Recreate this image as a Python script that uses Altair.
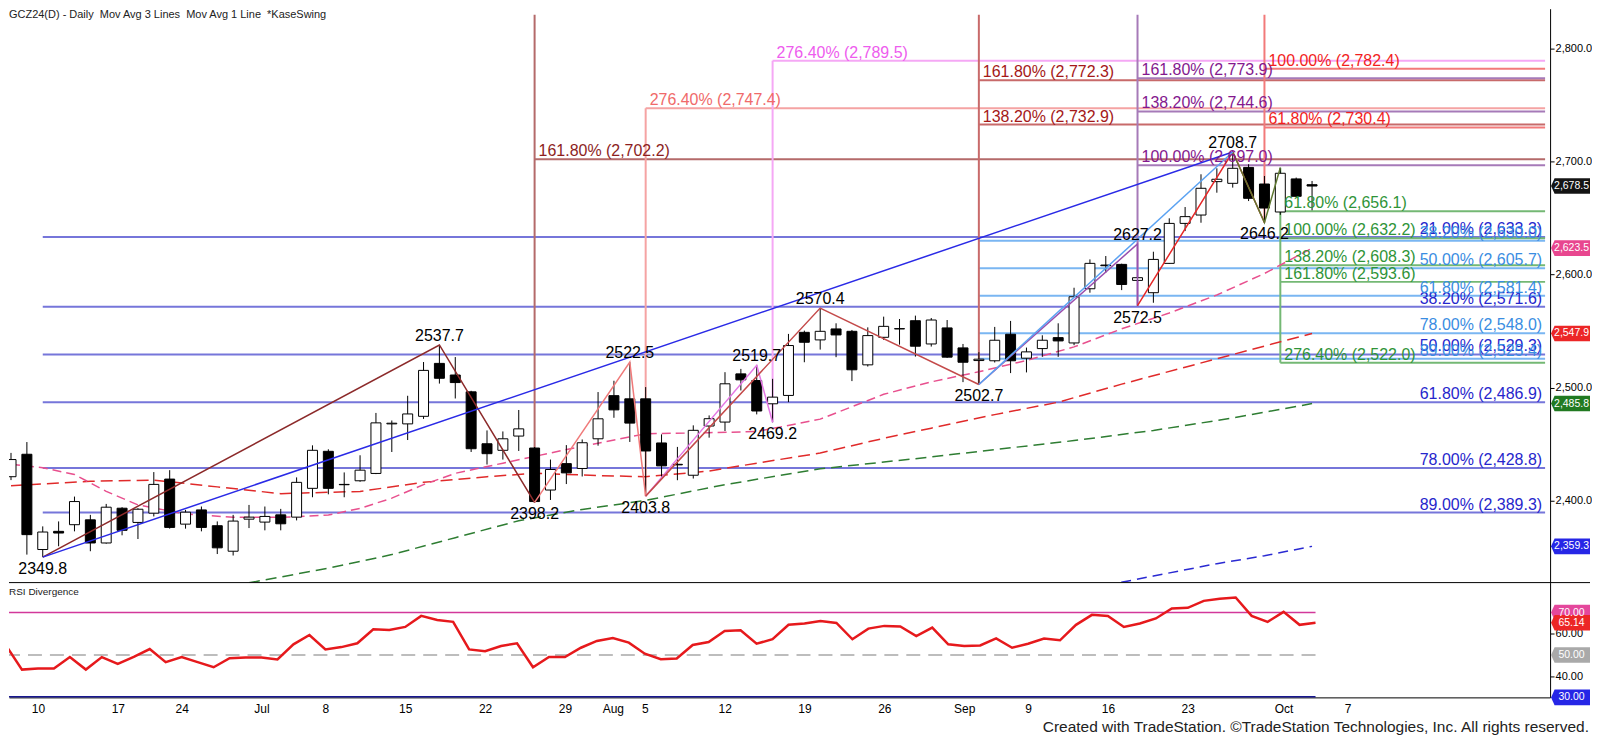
import json
import altair as alt
import pandas as pd

# ------------------------------------------------------------------ data
TITLE = "GCZ24(D) - Daily\u00a0 Mov Avg 3 Lines\u00a0 Mov Avg 1 Line\u00a0 *KaseSwing"
RSI_TITLE = "RSI Divergence"
FOOTER = "Created with TradeStation. \u00a9TradeStation Technologies, Inc. All rights reserved."

# trading-day index: 0 = Jun 10 2024 ... 80 = Oct 3 2024
DAY_IDX = list(range(-2, 81))
OPEN = [2421.0, 2440.9, 2356.5, 2372.6, 2378.5, 2382.8, 2362.3, 2393.1, 2380.5, 2388.7,
        2418.9, 2379.0, 2391.6, 2377.6, 2355.0, 2383.4, 2380.8, 2387.2, 2385.2, 2410.7,
        2443.5, 2414.2, 2417.4, 2423.9, 2467.8, 2467.8, 2474.5, 2521.4, 2511.1, 2496.2,
        2450.2, 2444.4, 2457.0, 2446.4, 2409.2, 2432.6, 2428.3, 2454.6, 2492.8, 2490.0,
        2490.0, 2450.9, 2432.0, 2422.3, 2465.9, 2469.4, 2512.1, 2506.2, 2485.6, 2493.0,
        2548.9, 2542.2, 2551.9, 2549.8, 2520.1, 2544.5, 2551.9, 2559.2, 2538.6, 2552.8,
        2535.1, 2523.9, 2523.7, 2547.2, 2526.0, 2534.5, 2544.2, 2539.5, 2587.5, 2608.5,
        2609.1, 2594.9, 2584.0, 2610.0, 2645.4, 2652.8, 2682.4, 2680.9, 2695.0, 2680.3,
        2655.5, 2684.8, 2679.7]
HIGH = [2442.1, 2451.7, 2377.0, 2381.4, 2403.4, 2387.2, 2396.9, 2394.0, 2393.1, 2425.1,
        2426.8, 2391.6, 2394.6, 2381.4, 2387.2, 2396.0, 2394.6, 2392.5, 2420.4, 2448.8,
        2445.3, 2424.8, 2440.0, 2477.5, 2470.8, 2492.7, 2522.6, 2537.7, 2527.0, 2497.1,
        2462.0, 2461.1, 2480.1, 2447.3, 2436.2, 2449.0, 2454.0, 2496.0, 2506.0, 2522.5,
        2500.4, 2458.5, 2447.4, 2466.5, 2475.3, 2513.6, 2516.5, 2519.7, 2507.7, 2547.5,
        2550.4, 2570.4, 2556.9, 2551.0, 2553.3, 2562.8, 2560.7, 2563.7, 2561.6, 2559.8,
        2538.6, 2531.3, 2553.7, 2559.0, 2535.4, 2546.3, 2556.9, 2588.4, 2613.5, 2616.5,
        2609.7, 2627.2, 2620.3, 2649.9, 2659.9, 2688.9, 2694.2, 2708.7, 2697.8, 2687.4,
        2694.7, 2686.0, 2683.0]
LOW = [2418.0, 2352.0, 2349.8, 2359.4, 2372.6, 2355.0, 2361.7, 2369.1, 2365.8, 2385.8,
       2375.0, 2375.0, 2372.6, 2352.5, 2351.2, 2375.5, 2373.5, 2373.5, 2382.3, 2402.8,
       2405.4, 2402.8, 2416.5, 2423.3, 2442.9, 2453.5, 2472.2, 2503.5, 2490.3, 2442.9,
       2431.8, 2436.2, 2443.8, 2398.2, 2400.4, 2414.5, 2421.2, 2448.5, 2473.2, 2451.8,
       2403.8, 2420.9, 2417.9, 2419.4, 2455.6, 2461.5, 2497.4, 2476.2, 2469.2, 2487.1,
       2522.4, 2533.6, 2526.9, 2505.7, 2518.6, 2542.2, 2538.0, 2527.4, 2536.3, 2526.3,
       2504.8, 2502.7, 2522.2, 2512.8, 2513.4, 2527.2, 2527.2, 2537.5, 2584.0, 2601.7,
       2586.3, 2572.5, 2575.1, 2609.7, 2638.6, 2646.0, 2672.6, 2677.1, 2665.2, 2646.2,
       2653.0, 2669.0, 2657.0]
CLOSE = [2436.2, 2369.7, 2372.0, 2371.1, 2399.0, 2362.3, 2394.0, 2373.5, 2392.2, 2414.2,
         2376.1, 2389.6, 2376.1, 2358.0, 2381.7, 2385.2, 2385.8, 2379.3, 2416.0, 2444.4,
         2410.7, 2413.9, 2426.8, 2468.7, 2468.4, 2476.6, 2515.2, 2508.2, 2504.4, 2445.8,
         2441.4, 2454.6, 2463.4, 2399.0, 2427.4, 2424.4, 2451.1, 2472.3, 2480.2, 2468.5,
         2443.8, 2430.6, 2431.5, 2462.1, 2472.4, 2503.3, 2506.8, 2479.2, 2491.5, 2537.2,
         2540.1, 2549.8, 2546.6, 2515.7, 2546.0, 2554.2, 2552.2, 2536.6, 2559.8, 2526.9,
         2522.4, 2525.1, 2541.9, 2523.7, 2531.6, 2541.9, 2541.3, 2580.4, 2610.0, 2607.9,
         2591.3, 2597.3, 2613.5, 2645.4, 2651.4, 2676.5, 2684.5, 2694.2, 2667.6, 2659.0,
         2689.8, 2669.4, 2678.5]
RSI = [54.5, 43.1, 43.6, 43.6, 49.0, 43.1, 49.0, 45.8, 49.1, 52.8,
       46.6, 49.0, 46.6, 44.2, 48.5, 48.8, 48.8, 47.9, 55.0, 59.4,
       52.6, 53.7, 55.5, 62.1, 61.8, 63.2, 68.4, 66.5, 65.6, 52.6,
       51.8, 54.2, 55.5, 44.2, 49.0, 49.0, 53.4, 56.6, 58.0, 55.8,
       50.6, 48.0, 48.3, 54.7, 56.1, 61.3, 61.6, 55.3, 57.4, 64.2,
       64.8, 66.0, 65.1, 57.4, 62.4, 63.7, 63.4, 58.9, 62.9, 55.0,
       54.2, 54.5, 57.8, 53.4, 55.3, 57.7, 56.9, 64.2, 68.9, 68.4,
       63.2, 64.8, 67.2, 71.9, 72.2, 75.5, 76.5, 77.1, 68.4, 65.6,
       70.3, 64.2, 65.14]

TICK_IDX = [0, 5, 9, 14, 18, 23, 28, 33, 36, 38, 43, 48, 53, 58, 62, 67, 72, 78, 82]
TICK_TXT = ["10", "17", "24", "Jul", "8", "15", "22", "29", "Aug", "5", "12", "19", "26",
            "Sep", "9", "16", "23", "Oct", "7"]
PRICE_TICKS = [2400, 2500, 2600, 2700, 2800]
RSI_TICKS = [40, 60]
RSI_LEVELS = [70, 50, 30]

# swing pivots (KaseSwing)
PIVOT_IDX = [0, 25, 31, 37, 38, 45, 46, 49, 59, 69, 69, 75, 77]
PIVOT_PRICE = [2349.8, 2537.7, 2398.2, 2522.5, 2403.8, 2519.7, 2469.2, 2570.4,
               2502.7, 2627.2, 2572.5, 2708.7, 2646.2]
PIVOT_SIDE = ["lo", "hi", "lo", "hi", "lo", "hi", "lo", "hi", "lo", "hi", "lo", "hi", "lo"]
SWING_LEGS = {
    "z1": [(0, 2349.8), (25, 2537.7), (31, 2398.2)],
    "z2": [(31, 2398.2), (37, 2522.5), (38, 2403.8)],
    "z3": [(38, 2403.8), (45, 2519.7), (46, 2469.2)],
    "z4": [(38, 2403.8), (49, 2570.4), (59, 2502.7)],
    "z5": [(59, 2502.7), (69, 2627.2), (69, 2572.5)],
    "z6": [(69, 2572.5), (75, 2708.7), (77, 2646.2)],
    "z7": [(75, 2708.7), (77, 2646.2), (78, 2694.7)],
    "t1": [(0, 2349.8), (75, 2708.7)],
    "t2": [(59, 2502.7), (75, 2708.7)],
}

# moving averages
MA_PINK_IDX = [-2, 0, 2, 4, 6, 9, 12, 15, 18, 20, 22, 24, 26, 29, 31, 34, 38, 42, 45, 49,
               53, 56, 59, 62, 65, 68, 71, 74, 77, 80]
MA_PINK_VAL = [2432, 2429, 2423, 2408, 2396, 2388, 2385, 2385, 2387, 2393, 2402, 2414, 2424,
               2433, 2439, 2448, 2459, 2460, 2461, 2472, 2494, 2505, 2514, 2524, 2536, 2552,
               2566, 2582, 2601, 2623.5]
MA_RED_IDX = [-2, 3, 7, 11, 15, 20, 24, 28, 31, 35, 38, 42, 45, 49, 53, 56, 60, 64, 68, 72, 76, 80]
MA_RED_VAL = [2413, 2417, 2418, 2412, 2406, 2408, 2416, 2421, 2424, 2422, 2421, 2426, 2433,
              2442, 2455, 2464, 2476, 2487, 2503, 2518, 2533, 2547.9]
MA_GREEN_IDX = [13, 18, 22, 26, 30, 34, 38, 43, 49, 55, 60, 65, 70, 75, 80]
MA_GREEN_VAL = [2327, 2340, 2352, 2367, 2382, 2392, 2400, 2414, 2428, 2437, 2445, 2453, 2462,
                2473, 2485.8]
MA_BLUE_IDX = [66, 70, 74, 77, 80]
MA_BLUE_VAL = [2322, 2333, 2344, 2351, 2359.3]

# Fibonacci sets: (start index, levels, percentages)
FIB_DB_START, FIB_DB_LEVELS, FIB_DB_PCTS = 0, [2633.3, 2571.6, 2529.3, 2486.9, 2428.8, 2389.3], \
    ["21.00%", "38.20%", "50.00%", "61.80%", "78.00%", "89.00%"]
FIB_LB_START, FIB_LB_LEVELS, FIB_LB_PCTS = 59, [2630.0, 2605.7, 2581.4, 2548.0, 2525.4], \
    ["38.20%", "50.00%", "61.80%", "78.00%", "89.00%"]
FIB_DR_START, FIB_DR_LEVELS, FIB_DR_PCTS = 31, [2702.2], ["161.80%"]
FIB_SA_START, FIB_SA_LEVELS, FIB_SA_PCTS = 38, [2747.4], ["276.40%"]
FIB_VI_START, FIB_VI_LEVELS, FIB_VI_PCTS = 46, [2789.5], ["276.40%"]
FIB_RA_START, FIB_RA_LEVELS, FIB_RA_PCTS = 59, [2772.3, 2732.9], ["161.80%", "138.20%"]
FIB_PU_START, FIB_PU_LEVELS, FIB_PU_PCTS = 69, [2773.9, 2744.6, 2697.0], ["161.80%", "138.20%", "100.00%"]
FIB_RB_START, FIB_RB_LEVELS, FIB_RB_PCTS = 77, [2782.4, 2730.4], ["100.00%", "61.80%"]
FIB_GR_START, FIB_GR_LEVELS, FIB_GR_PCTS = 78, [2656.1, 2632.2, 2608.3, 2593.6, 2522.0], \
    ["61.80%", "100.00%", "138.20%", "161.80%", "276.40%"]

# vertical projection markers: index and bottom price (pivot they start from)
VERT_IDX = [31, 38, 46, 59, 69, 77, 78]
VERT_BOT = [2398.2, 2403.8, 2469.2, 2502.7, 2572.5, 2646.2, 2522.0]

PRICE_TAG_VALUES = [2678.5, 2623.5, 2547.9, 2485.8, 2359.3]
RSI_TAG_VALUES = [70.0, 65.14, 50.0, 30.0]

# ------------------------------------------------------------------ style / layout
W, H_P, H_R = 1544, 575, 115
X_START, X_END = -1.8125, 94.6875
P_MIN, P_MAX = 2327.2, 2835.6
R_MIN, R_MAX = 30.0, 84.1
LINE_TOP = 2830.3
FONT = "Liberation Sans, Arial, sans-serif"
NARROW = "Liberation Sans Narrow, Arial Narrow, Liberation Sans, sans-serif"
TAG_W = 39

FIB_STYLE = {  # key: (line colour, text colour, align)
    "db": ("#7676da", "#2626cc", "right"),
    "lb": ("#7ab6f2", "#3a8de2", "right"),
    "dr": ("#b46a6a", "#8c1e1e", "left"),
    "sa": ("#f5a3a3", "#f06a6a", "left"),
    "vi": ("#f5a8f5", "#ee5cee", "left"),
    "ra": ("#c86a6a", "#a41818", "left"),
    "pu": ("#a67ab8", "#84188e", "left"),
    "rb": ("#f27a7a", "#f21e1e", "left"),
    "gr": ("#74b874", "#2f9438", "left"),
}
VERT_COLORS = ["#b46a6a", "#f5a3a3", "#f5a8f5", "#c86a6a", "#a67ab8", "#f27a7a", "#74b874"]
SWING_COLOR = {"z1": "#8c2a2a", "z2": "#f07a7a", "z3": "#e478e4", "z4": "#c44a4a",
               "z5": "#9a50ae", "z6": "#e62828", "z7": "#5f7832", "t1": "#2a2ae6",
               "t2": "#5aa2f2"}
PRICE_TAG_COLORS = ["#141414", "#e8478f", "#ec2626", "#217a21", "#2626e6"]
RSI_TAG_COLORS = ["#e4479c", "#ec2626", "#a9a9a9", "#2626e6"]
TAG_PATH = "M -1 0 L -0.82 -0.4 L 1 -0.4 L 1 0.4 L -0.82 0.4 Z"

# ------------------------------------------------------------------ tables
candles = pd.DataFrame({"idx": DAY_IDX, "open": OPEN, "high": HIGH, "low": LOW, "close": CLOSE})
rsi_df = pd.DataFrame({"idx": DAY_IDX, "rsi": RSI})

fib_rows = []
for key, start, levels, pcts in [
    ("db", FIB_DB_START, FIB_DB_LEVELS, FIB_DB_PCTS),
    ("lb", FIB_LB_START, FIB_LB_LEVELS, FIB_LB_PCTS),
    ("dr", FIB_DR_START, FIB_DR_LEVELS, FIB_DR_PCTS),
    ("sa", FIB_SA_START, FIB_SA_LEVELS, FIB_SA_PCTS),
    ("vi", FIB_VI_START, FIB_VI_LEVELS, FIB_VI_PCTS),
    ("ra", FIB_RA_START, FIB_RA_LEVELS, FIB_RA_PCTS),
    ("pu", FIB_PU_START, FIB_PU_LEVELS, FIB_PU_PCTS),
    ("rb", FIB_RB_START, FIB_RB_LEVELS, FIB_RB_PCTS),
    ("gr", FIB_GR_START, FIB_GR_LEVELS, FIB_GR_PCTS),
]:
    lc, tc, al = FIB_STYLE[key]
    for lv, pc in zip(levels, pcts):
        fib_rows.append({"start": start, "end": X_END, "level": lv,
                         "label": f"{pc} ({lv:,.1f})", "lcol": lc, "tcol": tc, "align": al,
                         "lx": start if al == "left" else X_END})
fibs = pd.DataFrame(fib_rows)

verts = pd.DataFrame({"idx": VERT_IDX, "bot": VERT_BOT, "color": VERT_COLORS})
verts["top"] = [LINE_TOP, FIB_SA_LEVELS[0], FIB_VI_LEVELS[0], LINE_TOP, LINE_TOP, LINE_TOP,
                SWING_LEGS["z7"][-1][1]]

swing_rows = []
for leg, pts in SWING_LEGS.items():
    for k, (i, p) in enumerate(pts):
        swing_rows.append({"leg": leg, "ord": k, "idx": i, "price": p, "color": SWING_COLOR[leg]})
swings = pd.DataFrame(swing_rows)

pivots = pd.DataFrame({"idx": PIVOT_IDX, "price": PIVOT_PRICE, "side": PIVOT_SIDE})
pivots["label"] = [f"{p:.1f}" for p in PIVOT_PRICE]

ptags = pd.DataFrame({"value": PRICE_TAG_VALUES, "color": PRICE_TAG_COLORS})
rtags = pd.DataFrame({"value": RSI_TAG_VALUES, "color": RSI_TAG_COLORS})

# ------------------------------------------------------------------ price panel
xs = alt.Scale(domain=[X_START, X_END], nice=False, zero=False)
ys = alt.Scale(domain=[P_MIN, P_MAX], nice=False, zero=False)
yax = alt.Axis(orient="right", values=PRICE_TICKS, format=",.1f", title=None, grid=False,
               domainColor="black", domainWidth=1, tickColor="black", tickSize=4,
               labelFontSize=11, labelFont=FONT, labelColor="black", labelPadding=1)


def PX(f):
    return alt.X(f, type="quantitative", scale=xs, axis=None)


def PY(f):
    return alt.Y(f, type="quantitative", scale=ys, axis=yax)


fib_lines = alt.Chart(fibs).mark_rule(strokeWidth=2, clip=True).encode(
    x=PX("start"), x2="end", y=PY("level"), color=alt.Color("lcol:N", scale=None))
vert_lines = alt.Chart(verts).mark_rule(strokeWidth=2, clip=True).encode(
    x=PX("idx"), y=PY("top"), y2="bot", color=alt.Color("color:N", scale=None))


def ma_layer(ix, vals, color, dash):
    df = pd.DataFrame({"idx": ix, "v": vals})
    return alt.Chart(df).mark_line(color=color, strokeWidth=1.5, strokeDash=dash, clip=True).encode(
        x=PX("idx"), y=PY("v"))


ma_pink = ma_layer(MA_PINK_IDX, MA_PINK_VAL, "#e8508e", [9, 5])
ma_red = ma_layer(MA_RED_IDX, MA_RED_VAL, "#e02a2a", [12, 6])
ma_green = ma_layer(MA_GREEN_IDX, MA_GREEN_VAL, "#2e7d32", [11, 6])
ma_blue = ma_layer(MA_BLUE_IDX, MA_BLUE_VAL, "#2a2ad2", [10, 6])

wicks = alt.Chart(candles).mark_rule(color="black", strokeWidth=1, clip=True).encode(
    x=PX("idx"), y=PY("low"), y2="high")
bodies = alt.Chart(candles).mark_bar(size=10, stroke="black", strokeWidth=1, clip=True).encode(
    x=PX("idx"), y=PY("open"), y2="close",
    color=alt.condition("datum.close >= datum.open", alt.value("white"), alt.value("black")))

swing_lines = alt.Chart(swings).mark_line(strokeWidth=1.5, clip=True).encode(
    x=PX("idx"), y=PY("price"), detail="leg:N", order="ord:Q",
    color=alt.Color("color:N", scale=None))

fib_text_l = alt.Chart(fibs).transform_filter("datum.align == 'left'").mark_text(
    align="left", baseline="alphabetic", dx=4, dy=-3, fontSize=16, font=FONT).encode(
    x=PX("lx"), y=PY("level"), text="label:N", color=alt.Color("tcol:N", scale=None))
fib_text_r = alt.Chart(fibs).transform_filter("datum.align == 'right'").mark_text(
    align="right", baseline="alphabetic", dx=-3, dy=-3, fontSize=16, font=FONT).encode(
    x=PX("lx"), y=PY("level"), text="label:N", color=alt.Color("tcol:N", scale=None))

piv_hi = alt.Chart(pivots).transform_filter("datum.side == 'hi'").mark_text(
    align="center", baseline="alphabetic", dy=-4, fontSize=16, font=FONT, color="black").encode(
    x=PX("idx"), y=PY("price"), text="label:N")
piv_lo = alt.Chart(pivots).transform_filter("datum.side == 'lo'").mark_text(
    align="center", baseline="top", dy=4, fontSize=16, font=FONT, color="black").encode(
    x=PX("idx"), y=PY("price"), text="label:N")

ptag_shape = alt.Chart(ptags).mark_point(shape=TAG_PATH, filled=True, size=TAG_W * TAG_W,
                                         opacity=1, strokeWidth=0).encode(
    x=alt.value(W + 1 + TAG_W / 2), y=PY("value"), color=alt.Color("color:N", scale=None))
ptag_text = alt.Chart(ptags).mark_text(color="white", fontSize=10.5, font=FONT, align="center",
                                       baseline="middle").encode(
    x=alt.value(W + 2 + TAG_W / 2), y=PY("value"), text=alt.Text("value:Q", format=",.1f"))

title = alt.Chart(pd.DataFrame({"t": [TITLE]})).mark_text(
    align="left", baseline="top", fontSize=11, font=FONT, color="#222222").encode(
    x=alt.value(0), y=alt.value(0), text="t:N")

price = alt.layer(fib_lines, vert_lines, ma_blue, ma_green, ma_red, ma_pink, wicks, bodies,
                  swing_lines, fib_text_l, fib_text_r, piv_hi, piv_lo, ptag_shape, ptag_text,
                  title).properties(width=W, height=H_P)

# ------------------------------------------------------------------ RSI panel
rys = alt.Scale(domain=[R_MIN, R_MAX], nice=False, zero=False)
label_expr = f"{json.dumps(TICK_TXT)}[indexof({json.dumps(TICK_IDX)}, datum.value)]"
xax_r = alt.Axis(orient="bottom", values=TICK_IDX, labelExpr=label_expr, ticks=False,
                 domain=True, domainColor="black", grid=False, title=None, labelFontSize=12,
                 labelFont=NARROW, labelColor="black", labelPadding=6, labelOverlap=False,
                 labelFlush=False)
yax_r = alt.Axis(orient="right", values=RSI_TICKS, format=".2f", title=None, grid=False,
                 domainColor="black", tickColor="black", tickSize=4, labelFontSize=11,
                 labelFont=FONT, labelColor="black", labelPadding=1)


def RX(f):
    return alt.X(f, type="quantitative", scale=xs, axis=xax_r)


def RY(f):
    return alt.Y(f, type="quantitative", scale=rys, axis=yax_r)


lvl = pd.DataFrame({"level": RSI_LEVELS, "x0": DAY_IDX[0], "x1": DAY_IDX[-1]})
lvl70 = alt.Chart(lvl).transform_filter("datum.level == 70").mark_rule(
    color="#d2389a", strokeWidth=1.5, clip=True).encode(x=RX("x0"), x2="x1", y=RY("level"))
lvl50 = alt.Chart(lvl).transform_filter("datum.level == 50").mark_rule(
    color="#a8a8a8", strokeWidth=1.5, strokeDash=[14, 8], clip=True).encode(
    x=RX("x0"), x2="x1", y=RY("level"))
lvl30 = alt.Chart(lvl).transform_filter("datum.level == 30").mark_rule(
    color="#16168e", strokeWidth=3, clip=True).encode(x=RX("x0"), x2="x1", y=RY("level"))
rsi_line = alt.Chart(rsi_df).mark_line(color="#e6191c", strokeWidth=2.5, clip=True).encode(
    x=RX("idx"), y=RY("rsi"))

rtag_shape = alt.Chart(rtags).mark_point(shape=TAG_PATH, filled=True, size=TAG_W * TAG_W,
                                         opacity=1, strokeWidth=0).encode(
    x=alt.value(W + 1 + TAG_W / 2), y=RY("value"), color=alt.Color("color:N", scale=None))
rtag_text = alt.Chart(rtags).mark_text(color="white", fontSize=10.5, font=FONT, align="center",
                                       baseline="middle").encode(
    x=alt.value(W + 2 + TAG_W / 2), y=RY("value"), text=alt.Text("value:Q", format=".2f"))

sep = alt.Chart(pd.DataFrame({"a": [0]})).mark_rule(color="black", strokeWidth=1).encode(
    x=alt.value(0), x2=alt.value(W + TAG_W + 1), y=alt.value(0))
rsi_title = alt.Chart(pd.DataFrame({"t": [RSI_TITLE]})).mark_text(
    align="left", baseline="middle", fontSize=10, font=FONT, color="#222222").encode(
    x=alt.value(0), y=alt.value(9), text="t:N")
footer = alt.Chart(pd.DataFrame({"t": [FOOTER]})).mark_text(
    align="right", baseline="alphabetic", fontSize=15.5, font=FONT, color="#222222").encode(
    x=alt.value(W + TAG_W), y=alt.value(H_R + 35), text="t:N")

rsi = alt.layer(lvl70, lvl50, lvl30, rsi_line, rtag_shape, rtag_text, sep, rsi_title,
                footer).properties(width=W, height=H_R)

chart = alt.vconcat(price, rsi, spacing=0, bounds="flush").properties(
    padding=0, background="white").configure_view(stroke=None)

chart.save("out.html", embed_options={"renderer": "svg", "actions": False})
